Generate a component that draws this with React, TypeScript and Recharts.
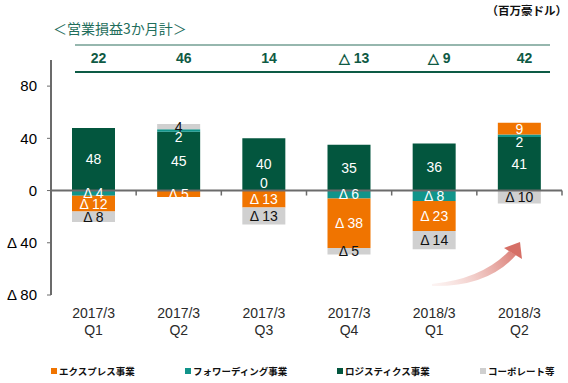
import { BarChart, Bar, XAxis, YAxis, ReferenceLine, LabelList } from 'recharts'

// quarterly operating profit, A$ million
const fiscalYears = ['2017/3', '2017/3', '2017/3', '2017/3', '2018/3', '2018/3']
const quarters = ['Q1', 'Q2', 'Q3', 'Q4', 'Q1', 'Q2']
const express = [-12, -5, -13, -38, -23, 9]
const forwarding = [-4, 2, 0, -6, -8, 2]
const logistics = [48, 45, 40, 35, 36, 41]
const corporate = [-8, 4, -13, -5, -14, -10]
const totals = [22, 46, 14, -13, -9, 42]
const yTicks = [-80, -40, 0, 40, 80]

const legendItems = [
  { name: 'エクスプレス事業', color: '#f07400', left: 51 },
  { name: 'フォワーディング事業', color: '#11948a', left: 185 },
  { name: 'ロジスティクス事業', color: '#03563e', left: 337 },
  { name: 'コーポレート等', color: '#cfcfcf', left: 480 },
]

const data = fiscalYears.map((fy, i) => ({
  cat: `${fy} ${quarters[i]}`,
  express: express[i],
  forwarding: forwarding[i],
  logistics: logistics[i],
  corporate: corporate[i],
}))

const fmt = (v: number) => (v < 0 ? `Δ ${-v}` : `${v}`)

// shiftSmall: thin positive segments get their label pushed a bit below
const segLabel = (color: string, shiftSmall = 0) => (props: any) => {
  const { viewBox, value } = props
  if (value == null || value === 0 || !viewBox) return null
  const { x, y, width, height } = viewBox
  const extra = value > 0 && Math.abs(height) < 6 ? shiftSmall : 0
  return (
    <text x={x + width / 2} y={y + height / 2} dy={5 + extra} textAnchor="middle" fill={color} fontSize={14}>
      {fmt(value)}
    </text>
  )
}

// "0" for a zero-size segment sits just above the zero line, on the logistics bar
const zeroLabel = (props: any) => {
  const { viewBox, value } = props
  if (value !== 0 || !viewBox) return null
  const { x, y, width, height } = viewBox
  return (
    <text x={x + width / 2} y={y + height} dy={-3} textAnchor="middle" fill="#fff" fontSize={14}>
      0
    </text>
  )
}

const CatTick = (props: any) => {
  const { x, y, payload } = props
  const [fy, q] = String(payload.value).split(' ')
  return (
    <g>
      <text x={x} y={y} dy={23} textAnchor="middle" fill="#2a2a2a" fontSize={14}>{fy}</text>
      <text x={x} y={y} dy={40} textAnchor="middle" fill="#2a2a2a" fontSize={14}>{q}</text>
    </g>
  )
}

const jp = '"Noto Sans CJK JP", sans-serif'

export default function App() {
  return (
    <div style={{ position: 'absolute', left: 0, top: 0, width: 568, height: 383, background: '#fff', fontFamily: '"Liberation Sans", Arial, sans-serif' }}>
      <div style={{ position: 'absolute', right: 1, top: 3, fontSize: 11.5, lineHeight: '14px', fontWeight: 'bold', fontFamily: jp, color: '#111' }}>
        （百万豪ドル）
      </div>
      <div style={{ position: 'absolute', left: 53, top: 19, fontSize: 14, lineHeight: '18px', fontFamily: jp, color: '#1f6e5c' }}>
        ＜営業損益3か月計＞
      </div>
      <div style={{ position: 'absolute', left: 75, top: 44, width: 475, borderTop: '2px solid #96b7ae' }} />
      <div style={{ position: 'absolute', left: 75, top: 71, width: 475, borderTop: '2px solid #0d5b45' }} />
      <div style={{ position: 'absolute', left: 56, top: 50, width: 511, display: 'flex' }}>
        {totals.map((t, i) => (
          <div key={i} style={{ flex: 1, textAlign: 'center', fontWeight: 'bold', fontSize: 14, lineHeight: '16px', color: '#0f5a44' }}>
            {t < 0 ? `△ ${-t}` : t}
          </div>
        ))}
      </div>

      <BarChart width={568} height={383} data={data} stackOffset="sign" margin={{ top: 60, right: 6, bottom: 28, left: 0 }}>
        <XAxis dataKey="cat" axisLine={false} tickLine={false} tickSize={0} tickMargin={0} height={60} tick={<CatTick />} interval={0} />
        <YAxis
          width={51}
          domain={[-80, 100]}
          ticks={yTicks}
          allowDataOverflow
          axisLine={{ stroke: '#6b6b6b', strokeWidth: 2 }}
          tickLine={{ stroke: '#6b6b6b' }}
          tickSize={4}
          tickMargin={10}
          tick={{ fill: '#000', fontSize: 15 }}
          tickFormatter={(v: number) => fmt(v)}
        />
        <Bar dataKey="logistics" stackId="a" fill="#03563e" barSize={43} isAnimationActive={false}>
          <LabelList dataKey="logistics" content={segLabel('#fff')} />
          <LabelList dataKey="forwarding" content={zeroLabel} />
        </Bar>
        <Bar dataKey="forwarding" stackId="a" fill="#11948a" barSize={43} isAnimationActive={false}>
          <LabelList dataKey="forwarding" content={segLabel('#fff', 6)} />
        </Bar>
        <Bar dataKey="express" stackId="a" fill="#f07400" barSize={43} isAnimationActive={false}>
          <LabelList dataKey="express" content={segLabel('#fff')} />
        </Bar>
        <Bar dataKey="corporate" stackId="a" fill="#d0d0d0" barSize={43} isAnimationActive={false}>
          <LabelList dataKey="corporate" content={segLabel('#111')} />
        </Bar>
        <ReferenceLine y={0} stroke="#6b6b6b" strokeWidth={2} />
        {data.map((d) => (
          <ReferenceLine
            key={d.cat}
            segment={[{ x: d.cat, y: 0 }, { x: d.cat, y: -3.8 }]}
            position="end"
            stroke="#6b6b6b"
            strokeWidth={1.5}
          />
        ))}
      </BarChart>

      <svg width={568} height={383} style={{ position: 'absolute', left: 0, top: 0, pointerEvents: 'none' }}>
        <defs>
          <linearGradient id="arrowGrad" gradientUnits="userSpaceOnUse" x1={432} y1={285} x2={520} y2={245}>
            <stop offset="0" stopColor="#f2c9c3" stopOpacity={0.2} />
            <stop offset="1" stopColor="#d4675e" stopOpacity={0.95} />
          </linearGradient>
        </defs>
        <path d="M432,284 Q482,279 509,251 L516,255 Q488,287 432,286 Z" fill="url(#arrowGrad)" />
        <polygon points="504,248 520,242 522,259" fill="#d4675e" fillOpacity={0.95} />
      </svg>

      {legendItems.map((it) => (
        <div key={it.name} style={{ position: 'absolute', left: it.left, top: 365, display: 'flex', alignItems: 'center', fontSize: 9.5, lineHeight: '12px', fontWeight: 'bold', fontFamily: jp, color: '#111' }}>
          <span style={{ display: 'inline-block', width: 6, height: 6, background: it.color, marginRight: 2 }} />
          {it.name}
        </div>
      ))}
    </div>
  )
}
